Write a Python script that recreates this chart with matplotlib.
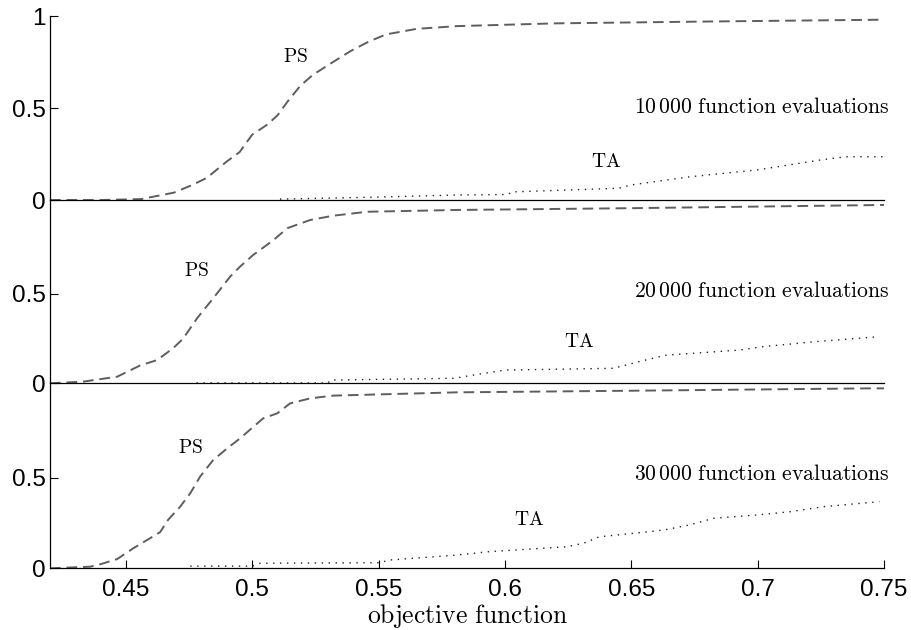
import matplotlib
matplotlib.use('Agg')
import matplotlib.pyplot as plt

plt.rcParams['mathtext.fontset'] = 'cm'
plt.rcParams['font.family'] = 'Liberation Sans'

# PS (dashed) and TA (dotted) curves
ps10_x = [0.42, 0.44, 0.456, 0.469, 0.476, 0.482, 0.49, 0.495, 0.5, 0.506, 0.51, 0.514,
          0.519, 0.524, 0.532, 0.539, 0.546, 0.553, 0.565, 0.581, 0.62, 0.68, 0.75]
ps10_y = [0, 0, 0.005, 0.04, 0.08, 0.12, 0.21, 0.26, 0.355, 0.41, 0.46, 0.535,
          0.62, 0.68, 0.75, 0.81, 0.86, 0.90, 0.93, 0.945, 0.96, 0.97, 0.98]
ta10_x = [0.511, 0.55, 0.58, 0.601, 0.603, 0.645, 0.65, 0.673, 0.70, 0.726, 0.735, 0.75]
ta10_y = [0.005, 0.016, 0.027, 0.03, 0.044, 0.064, 0.082, 0.126, 0.164, 0.22, 0.235, 0.235]

ps20_x = [0.42, 0.433, 0.4466, 0.4557, 0.4624, 0.4687, 0.4727, 0.4782, 0.4846, 0.4913,
          0.4952, 0.5004, 0.5083, 0.5139, 0.523, 0.5321, 0.5455, 0.5808, 0.65, 0.75]
ps20_y = [0, 0.009, 0.037, 0.10, 0.13, 0.196, 0.25, 0.364, 0.476, 0.597,
          0.653, 0.718, 0.80, 0.868, 0.914, 0.938, 0.96, 0.97, 0.98, 0.998]
ta20_x = [0.478, 0.53, 0.531, 0.58, 0.5875, 0.60, 0.643, 0.653, 0.664, 0.693, 0.702, 0.723, 0.748]
ta20_y = [0.002, 0.002, 0.018, 0.028, 0.046, 0.074, 0.084, 0.121, 0.158, 0.186, 0.205, 0.233, 0.261]

ps30_x = [0.42, 0.4359, 0.4398, 0.4466, 0.4529, 0.4584, 0.4636, 0.4667, 0.4715, 0.4755,
          0.4794, 0.4846, 0.4901, 0.4952, 0.5004, 0.5044, 0.5099, 0.515, 0.523, 0.5321,
          0.5808, 0.65, 0.7443, 0.75]
ps30_y = [0, 0.009, 0.022, 0.051, 0.11, 0.156, 0.20, 0.267, 0.34, 0.414,
          0.506, 0.598, 0.662, 0.717, 0.78, 0.828, 0.855, 0.91, 0.938, 0.953,
          0.971, 0.98, 0.993, 0.993]
ta30_x = [0.4755, 0.5, 0.5032, 0.5503, 0.5546, 0.5808, 0.5938, 0.6243, 0.631, 0.6374,
          0.6508, 0.6627, 0.673, 0.6825, 0.6995, 0.7126, 0.726, 0.7482]
ta30_y = [0.012, 0.012, 0.028, 0.031, 0.046, 0.073, 0.092, 0.119, 0.138, 0.174,
          0.193, 0.211, 0.239, 0.276, 0.294, 0.312, 0.34, 0.368]

labels = ['10\\,000', '20\\,000', '30\\,000']
xticks = [0.45, 0.5, 0.55, 0.6, 0.65, 0.7, 0.75]

panels = [
    (ps10_x, ps10_y, ta10_x, ta10_y, (0.517, 0.777), (0.640, 0.207), 0.505),
    (ps20_x, ps20_y, ta20_x, ta20_y, (0.478, 0.629), (0.6295, 0.233), 0.513),
    (ps30_x, ps30_y, ta30_x, ta30_y, (0.4755, 0.662), (0.6097, 0.267), 0.515),
]
# axes boxes in figure fractions and y upper limits
boxes = [(0.6825, 0.2921, 1.0), (0.3916, 0.2910, 1.026), (0.0979, 0.2937, 1.021)]

fig = plt.figure(figsize=(9.12, 6.3), dpi=100)

for i, (p, b) in enumerate(zip(panels, boxes)):
    psx, psy, tax, tay, ps_pos, ta_pos, ev_y = p
    ax = fig.add_axes([0.0548, b[0], 0.9145, b[1]])
    ax.patch.set_visible(False)
    ax.plot(psx, psy, color='#5e5e5e', lw=1.4, dashes=(5.5, 3))
    ax.plot(tax, tay, color='#222222', lw=1.0, dashes=(1, 4))
    ax.set_xlim(0.42, 0.75)
    ax.set_ylim(0, b[2])
    ax.spines['top'].set_visible(False)
    ax.spines['right'].set_visible(False)
    for s in ['left', 'bottom']:
        ax.spines[s].set_linewidth(0.9)
        ax.spines[s].set_zorder(5)
    if i == 0:
        ax.set_yticks([0, 0.5, 1])
        ax.set_yticklabels(['0', '0.5', '1'])
    else:
        ax.set_yticks([0, 0.5])
        ax.set_yticklabels(['0', '0.5'])
    ax.tick_params(axis='y', direction='in', length=6, width=0.8, labelsize=17.5, pad=3)
    if i == 2:
        ax.set_xticks(xticks)
        ax.set_xticklabels([f'{t:g}' for t in xticks])
        ax.tick_params(axis='x', direction='in', length=6, width=0.8, labelsize=17.5, pad=8)
        ax.set_xlabel(r'$\mathrm{objective\ function}$', fontsize=18.5, va='center')
        ax.xaxis.set_label_coords(0.5, -0.255)
    else:
        ax.tick_params(axis='x', bottom=False, labelbottom=False)
    ax.text(ps_pos[0], ps_pos[1], r'$\mathrm{PS}$', fontsize=14, ha='center', va='center')
    ax.text(ta_pos[0], ta_pos[1], r'$\mathrm{TA}$', fontsize=14, ha='center', va='center')
    ax.text(0.7522, ev_y, r'$\mathrm{' + labels[i] + r'\ function\ evaluations}$',
            fontsize=15.6, ha='right', va='center')

fig.savefig('out.png', dpi=100)
